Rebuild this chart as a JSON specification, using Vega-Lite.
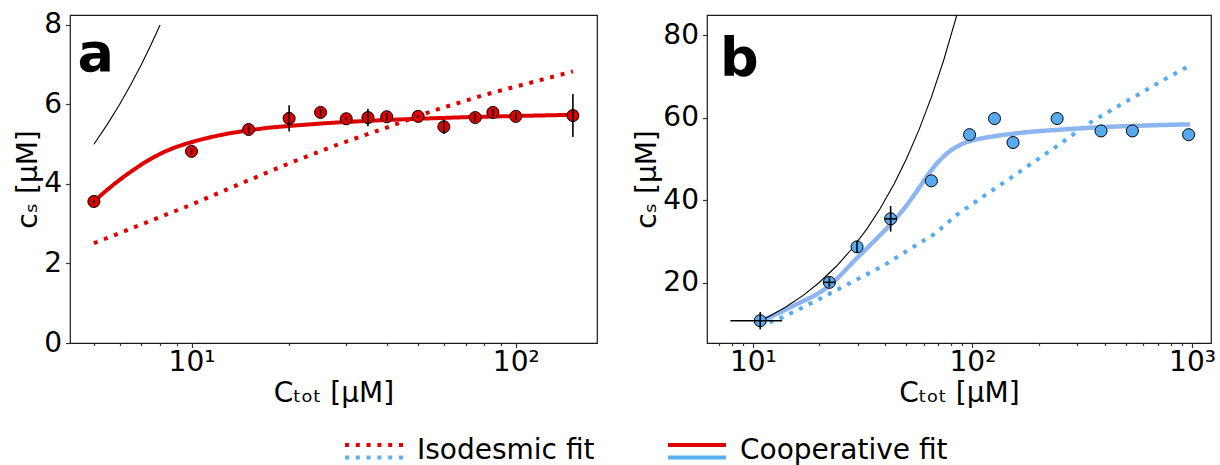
{
  "$schema": "https://vega.github.io/schema/vega-lite/v6.json",
  "padding": {"left": 14, "top": 10, "right": 0, "bottom": 0},
  "background": "white",
  "config": {
    "font": "DejaVu Sans",
    "view": {"stroke": "#1a1a1a", "strokeWidth": 1.2},
    "axis": {
      "labelFont": "DejaVu Sans", "labelFontSize": 28, "labelColor": "#000",
      "titleFont": "DejaVu Sans", "titleFontSize": 28, "titleFontWeight": "normal", "titleColor": "#000",
      "domain": false, "grid": false, "tickColor": "#333", "tickWidth": 1.2,
      "labelPadding": 4, "labelOverlap": false, "labelFlush": false, "labelBound": false
    }
  },
  "datasets": {
    "aPts": [
      {"x": 5, "y": 3.56, "ylo": 3.51, "yhi": 3.61},
      {"x": 10, "y": 4.82, "ylo": 4.74, "yhi": 4.9},
      {"x": 15, "y": 5.37, "ylo": 5.27, "yhi": 5.47},
      {"x": 20, "y": 5.65, "ylo": 5.32, "yhi": 5.98},
      {"x": 25, "y": 5.8, "ylo": 5.7, "yhi": 5.9},
      {"x": 30, "y": 5.64, "ylo": 5.6, "yhi": 5.68},
      {"x": 35, "y": 5.67, "ylo": 5.45, "yhi": 5.89},
      {"x": 40, "y": 5.69, "ylo": 5.59, "yhi": 5.79},
      {"x": 50, "y": 5.7, "ylo": 5.67, "yhi": 5.73},
      {"x": 60, "y": 5.44, "ylo": 5.26, "yhi": 5.62},
      {"x": 75, "y": 5.67, "ylo": 5.57, "yhi": 5.77},
      {"x": 85, "y": 5.8, "ylo": 5.7, "yhi": 5.9},
      {"x": 100, "y": 5.7, "ylo": 5.6, "yhi": 5.8},
      {"x": 150, "y": 5.72, "ylo": 5.18, "yhi": 6.26}
    ],
    "aCoop": [
      {"x": 5, "y": 3.56, "fit": "Cooperative fit"},
      {"x": 5.4, "y": 3.8, "fit": "Cooperative fit"},
      {"x": 5.78, "y": 4.0, "fit": "Cooperative fit"},
      {"x": 6.2, "y": 4.19, "fit": "Cooperative fit"},
      {"x": 6.64, "y": 4.36, "fit": "Cooperative fit"},
      {"x": 7.1, "y": 4.52, "fit": "Cooperative fit"},
      {"x": 7.6, "y": 4.66, "fit": "Cooperative fit"},
      {"x": 8.2, "y": 4.8, "fit": "Cooperative fit"},
      {"x": 8.9, "y": 4.92, "fit": "Cooperative fit"},
      {"x": 9.6, "y": 5.01, "fit": "Cooperative fit"},
      {"x": 10.5, "y": 5.1, "fit": "Cooperative fit"},
      {"x": 11.5, "y": 5.18, "fit": "Cooperative fit"},
      {"x": 13, "y": 5.27, "fit": "Cooperative fit"},
      {"x": 15, "y": 5.35, "fit": "Cooperative fit"},
      {"x": 17.5, "y": 5.42, "fit": "Cooperative fit"},
      {"x": 20, "y": 5.46, "fit": "Cooperative fit"},
      {"x": 25, "y": 5.52, "fit": "Cooperative fit"},
      {"x": 30, "y": 5.56, "fit": "Cooperative fit"},
      {"x": 40, "y": 5.61, "fit": "Cooperative fit"},
      {"x": 50, "y": 5.64, "fit": "Cooperative fit"},
      {"x": 70, "y": 5.68, "fit": "Cooperative fit"},
      {"x": 100, "y": 5.71, "fit": "Cooperative fit"},
      {"x": 150, "y": 5.74, "fit": "Cooperative fit"}
    ],
    "aIso": [
      {"x": 5, "y": 2.51, "fit": "Isodesmic fit"},
      {"x": 7, "y": 2.98, "fit": "Isodesmic fit"},
      {"x": 10, "y": 3.48, "fit": "Isodesmic fit"},
      {"x": 14, "y": 3.99, "fit": "Isodesmic fit"},
      {"x": 20, "y": 4.52, "fit": "Isodesmic fit"},
      {"x": 28, "y": 4.98, "fit": "Isodesmic fit"},
      {"x": 40, "y": 5.42, "fit": "Isodesmic fit"},
      {"x": 56, "y": 5.85, "fit": "Isodesmic fit"},
      {"x": 80, "y": 6.24, "fit": "Isodesmic fit"},
      {"x": 110, "y": 6.54, "fit": "Isodesmic fit"},
      {"x": 150, "y": 6.83, "fit": "Isodesmic fit"}
    ],
    "aDiag": [
      {"x": 5, "y": 5}, {"x": 5.5, "y": 5.5}, {"x": 6, "y": 6}, {"x": 6.5, "y": 6.5},
      {"x": 7, "y": 7}, {"x": 7.5, "y": 7.5}, {"x": 8, "y": 8}
    ],
    "aLabel": [{"x": 4.45, "y": 6.83, "label": "a"}],
    "bPts": [
      {"x": 10.8, "y": 10.8},
      {"x": 22.3, "y": 20.1},
      {"x": 29.8, "y": 28.7},
      {"x": 42.4, "y": 35.5},
      {"x": 65, "y": 44.7},
      {"x": 97, "y": 55.9},
      {"x": 126, "y": 59.8},
      {"x": 153, "y": 54.0},
      {"x": 243, "y": 59.8},
      {"x": 385, "y": 56.8},
      {"x": 535, "y": 56.8},
      {"x": 965, "y": 55.9}
    ],
    "bV": [
      {"x": 10.8, "ylo": 8.7, "yhi": 12.9},
      {"x": 22.3, "ylo": 18.9, "yhi": 21.3},
      {"x": 29.8, "ylo": 27.3, "yhi": 30.1},
      {"x": 42.4, "ylo": 32.4, "yhi": 38.6}
    ],
    "bH": [
      {"y": 10.8, "xlo": 7.9, "xhi": 13.6},
      {"y": 20.1, "xlo": 21.0, "xhi": 23.7},
      {"y": 35.5, "xlo": 39.8, "xhi": 45.1}
    ],
    "bCoop": [
      {"x": 11, "y": 10.8, "fit": "Cooperative fit"},
      {"x": 15, "y": 14.2, "fit": "Cooperative fit"},
      {"x": 22.3, "y": 19.3, "fit": "Cooperative fit"},
      {"x": 29.8, "y": 26.0, "fit": "Cooperative fit"},
      {"x": 36, "y": 30.3, "fit": "Cooperative fit"},
      {"x": 42.4, "y": 34.2, "fit": "Cooperative fit"},
      {"x": 50, "y": 38.7, "fit": "Cooperative fit"},
      {"x": 57.3, "y": 43.1, "fit": "Cooperative fit"},
      {"x": 64, "y": 46.8, "fit": "Cooperative fit"},
      {"x": 71, "y": 49.7, "fit": "Cooperative fit"},
      {"x": 78, "y": 51.7, "fit": "Cooperative fit"},
      {"x": 85, "y": 53.0, "fit": "Cooperative fit"},
      {"x": 92, "y": 53.9, "fit": "Cooperative fit"},
      {"x": 100, "y": 54.5, "fit": "Cooperative fit"},
      {"x": 110, "y": 55.0, "fit": "Cooperative fit"},
      {"x": 125, "y": 55.5, "fit": "Cooperative fit"},
      {"x": 170, "y": 56.4, "fit": "Cooperative fit"},
      {"x": 250, "y": 57.1, "fit": "Cooperative fit"},
      {"x": 350, "y": 57.6, "fit": "Cooperative fit"},
      {"x": 600, "y": 58.1, "fit": "Cooperative fit"},
      {"x": 980, "y": 58.4, "fit": "Cooperative fit"}
    ],
    "bIso": [
      {"x": 11.9, "y": 10.4, "fit": "Isodesmic fit"},
      {"x": 13, "y": 11.1, "fit": "Isodesmic fit"},
      {"x": 16, "y": 13.4, "fit": "Isodesmic fit"},
      {"x": 22.3, "y": 17.3, "fit": "Isodesmic fit"},
      {"x": 30, "y": 20.9, "fit": "Isodesmic fit"},
      {"x": 39.2, "y": 24.1, "fit": "Isodesmic fit"},
      {"x": 52, "y": 28.2, "fit": "Isodesmic fit"},
      {"x": 67.5, "y": 31.9, "fit": "Isodesmic fit"},
      {"x": 85, "y": 36.5, "fit": "Isodesmic fit"},
      {"x": 114, "y": 41.2, "fit": "Isodesmic fit"},
      {"x": 150, "y": 45.5, "fit": "Isodesmic fit"},
      {"x": 193, "y": 49.5, "fit": "Isodesmic fit"},
      {"x": 250, "y": 53.6, "fit": "Isodesmic fit"},
      {"x": 326, "y": 58.1, "fit": "Isodesmic fit"},
      {"x": 450, "y": 62.5, "fit": "Isodesmic fit"},
      {"x": 581, "y": 65.9, "fit": "Isodesmic fit"},
      {"x": 750, "y": 69.3, "fit": "Isodesmic fit"},
      {"x": 950, "y": 72.3, "fit": "Isodesmic fit"}
    ],
    "bDiag": [
      {"x": 10.8, "y": 10.8}, {"x": 12, "y": 12}, {"x": 14, "y": 14}, {"x": 17, "y": 17},
      {"x": 20, "y": 20}, {"x": 24, "y": 24}, {"x": 28, "y": 28}, {"x": 33, "y": 33},
      {"x": 38, "y": 38}, {"x": 44, "y": 44}, {"x": 50, "y": 50}, {"x": 57, "y": 57},
      {"x": 65, "y": 65}, {"x": 74, "y": 74}, {"x": 85, "y": 85}, {"x": 90, "y": 90}
    ],
    "bLabel": [{"x": 7.08, "y": 70.0, "label": "b"}]
  },
  "bounds": "flush",
  "spacing": 110,
  "resolve": {"scale": {"strokeDash": "independent"}, "legend": {"strokeDash": "independent"}},
  "hconcat": [
    {
      "width": 527,
      "height": 328,
      "encoding": {
        "x": {
          "field": "x", "type": "quantitative",
          "scale": {"type": "log", "domain": [4.22, 178], "nice": false, "zero": false},
          "axis": {
            "title": "Cₜₒₜ [μM]",
            "values": [5, 6, 7, 8, 9, 10, 20, 30, 40, 50, 60, 70, 80, 90, 100],
            "labelExpr": "datum.value == 10 ? '10¹' : datum.value == 100 ? '10²' : ''",
            "tickSize": {"condition": {"test": "indexof([10, 100, 1000], datum.value) >= 0", "value": 4.5}, "value": 2.5},
            "labelPadding": 1,
            "titlePadding": 3
          }
        },
        "y": {
          "field": "y", "type": "quantitative",
          "scale": {"domain": [0, 8.25], "nice": false, "zero": false},
          "axis": {"title": "cₛ [μM]", "values": [0, 2, 4, 6, 8], "tickSize": 4.5, "titlePadding": 1}
        }
      },
      "layer": [
        {
          "data": {"name": "aIso"},
          "mark": {"type": "line", "color": "#e00000", "strokeWidth": 4, "strokeCap": "butt"},
          "encoding": {
            "strokeDash": {
              "field": "fit", "type": "nominal",
              "scale": {"domain": ["Isodesmic fit", "Cooperative fit"], "range": [[4, 6.8], [1, 0]]},
              "legend": {
                "orient": "none", "legendX": 273, "legendY": 405, "direction": "horizontal", "columns": 2,
                "title": null, "padding": 0,
                "symbolType": "M-1,-0.21H1", "symbolSize": 3364, "symbolStrokeWidth": 4,
                "symbolFillColor": "transparent", "symbolStrokeColor": "#e00000",
                "labelFontSize": 28, "labelFont": "DejaVu Sans", "labelColor": "#000", "labelOffset": 12,
                "columnPadding": 65, "labelLimit": 400,
                "encode": {"symbols": {"update": {"stroke": {"value": "#e00000"}}}}
              }
            }
          }
        },
        {
          "data": {"name": "aCoop"},
          "mark": {"type": "line", "color": "#e00000", "strokeWidth": 4},
          "encoding": {
            "strokeDash": {"field": "fit", "type": "nominal",
              "scale": {"domain": ["Isodesmic fit", "Cooperative fit"], "range": [[4, 6.8], [1, 0]]}}
          }
        },
        {
          "data": {"name": "aDiag"},
          "mark": {"type": "line", "color": "#000", "strokeWidth": 1.1},
          "encoding": {}
        },
        {
          "data": {"name": "aPts"},
          "mark": {"type": "circle", "size": 145, "color": "#dd0000", "stroke": "#000", "strokeWidth": 1, "opacity": 1},
          "encoding": {}
        },
        {
          "data": {"name": "aPts"},
          "mark": {"type": "rule", "color": "#000", "strokeWidth": 1.6},
          "encoding": {"y": {"field": "ylo", "type": "quantitative"}, "y2": {"field": "yhi"}}
        },
        {
          "data": {"name": "aLabel"},
          "mark": {"type": "text", "align": "left", "baseline": "alphabetic", "fontSize": 54, "fontWeight": "bold", "font": "DejaVu Sans", "color": "#000"},
          "encoding": {"text": {"field": "label"}}
        }
      ]
    },
    {
      "width": 504,
      "height": 328,
      "encoding": {
        "x": {
          "field": "x", "type": "quantitative",
          "scale": {"type": "log", "domain": [6.18, 1220], "nice": false, "zero": false},
          "axis": {
            "title": "Cₜₒₜ [μM]",
            "values": [7, 8, 9, 10, 20, 30, 40, 50, 60, 70, 80, 90, 100, 200, 300, 400, 500, 600, 700, 800, 900, 1000],
            "labelExpr": "datum.value == 10 ? '10¹' : datum.value == 100 ? '10²' : datum.value == 1000 ? '10³' : ''",
            "tickSize": {"condition": {"test": "indexof([10, 100, 1000], datum.value) >= 0", "value": 4.5}, "value": 2.5},
            "labelPadding": 1,
            "titlePadding": 3
          }
        },
        "y": {
          "field": "y", "type": "quantitative",
          "scale": {"domain": [5.4, 84.9], "nice": false, "zero": false},
          "axis": {"title": "cₛ [μM]", "values": [20, 40, 60, 80], "tickSize": 4.5, "titlePadding": 1}
        }
      },
      "layer": [
        {
          "data": {"name": "bIso"},
          "mark": {"type": "line", "color": "#55abf2", "strokeWidth": 4, "strokeCap": "butt"},
          "encoding": {
            "strokeDash": {
              "field": "fit", "type": "nominal",
              "scale": {"domain": ["Isodesmic fit", "Cooperative fit"], "range": [[4, 6.8], [1, 0]]},
              "legend": {
                "orient": "none", "legendX": -364, "legendY": 405, "direction": "horizontal", "columns": 2,
                "title": null, "padding": 0,
                "symbolType": "M-1,0.21H1", "symbolSize": 3364, "symbolStrokeWidth": 4,
                "symbolFillColor": "transparent", "symbolStrokeColor": "#5cb0f2",
                "labelFontSize": 28, "labelFont": "DejaVu Sans", "labelColor": "#000", "labelOpacity": 0, "labelOffset": 12,
                "columnPadding": 65, "labelLimit": 400,
                "encode": {"symbols": {"update": {"stroke": {"value": "#5cb0f2"}}}}
              }
            }
          }
        },
        {
          "data": {"name": "bCoop"},
          "mark": {"type": "line", "color": "#8db5f0", "strokeWidth": 4.5, "interpolate": "monotone"},
          "encoding": {
            "strokeDash": {"field": "fit", "type": "nominal",
              "scale": {"domain": ["Isodesmic fit", "Cooperative fit"], "range": [[4, 6.8], [1, 0]]}}
          }
        },
        {
          "data": {"name": "bDiag"},
          "mark": {"type": "line", "color": "#000", "strokeWidth": 1.1, "clip": true},
          "encoding": {}
        },
        {
          "data": {"name": "bPts"},
          "mark": {"type": "circle", "size": 145, "color": "#56abf0", "stroke": "#000", "strokeWidth": 1, "opacity": 1},
          "encoding": {}
        },
        {
          "data": {"name": "bV"},
          "mark": {"type": "rule", "color": "#000", "strokeWidth": 1.6},
          "encoding": {"y": {"field": "ylo", "type": "quantitative"}, "y2": {"field": "yhi"}}
        },
        {
          "data": {"name": "bH"},
          "mark": {"type": "rule", "color": "#000", "strokeWidth": 1.6},
          "encoding": {"x": {"field": "xlo", "type": "quantitative"}, "x2": {"field": "xhi"}}
        },
        {
          "data": {"name": "bLabel"},
          "mark": {"type": "text", "align": "left", "baseline": "alphabetic", "fontSize": 54, "fontWeight": "bold", "font": "DejaVu Sans", "color": "#000"},
          "encoding": {"text": {"field": "label"}}
        }
      ]
    }
  ]
}
